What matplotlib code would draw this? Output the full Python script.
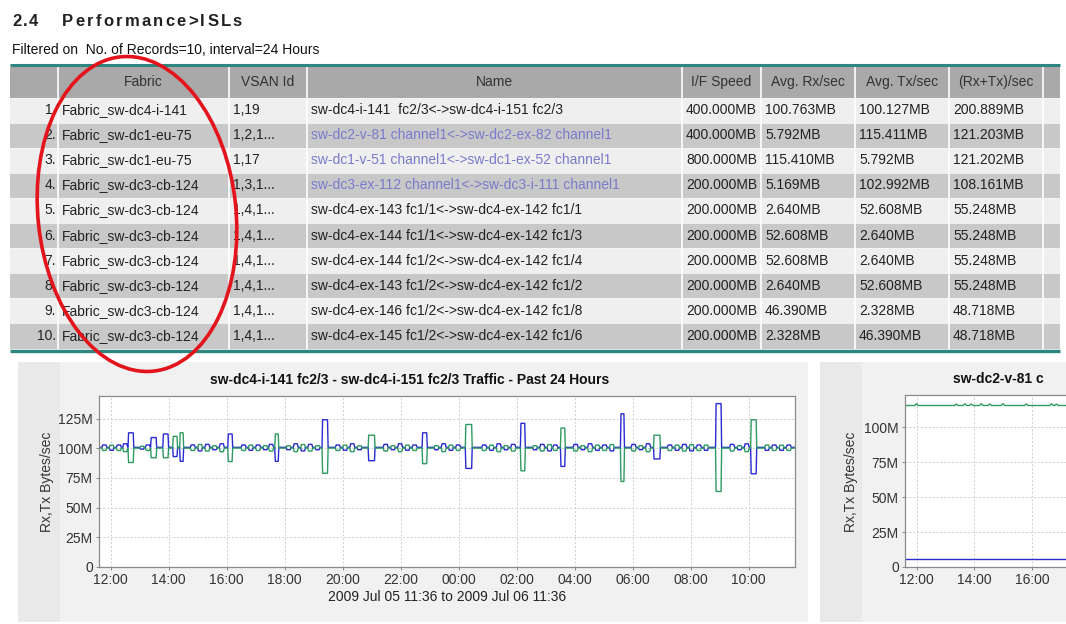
import matplotlib
matplotlib.use('Agg')
import matplotlib.pyplot as plt
from matplotlib.patches import Rectangle, Ellipse

plt.rcParams['font.family'] = ['Liberation Sans', 'DejaVu Sans']

W, H = 1066, 624

# ---------------- table data ----------------
column_headers = ['', 'Fabric', 'VSAN Id', 'Name', 'I/F Speed',
                  'Avg. Rx/sec', 'Avg. Tx/sec', '(Rx+Tx)/sec', '']
row_numbers = ['1.', '2.', '3.', '4.', '5.', '6.', '7.', '8.', '9.', '10.']
fabrics = ['Fabric_sw-dc4-i-141', 'Fabric_sw-dc1-eu-75', 'Fabric_sw-dc1-eu-75',
           'Fabric_sw-dc3-cb-124', 'Fabric_sw-dc3-cb-124', 'Fabric_sw-dc3-cb-124',
           'Fabric_sw-dc3-cb-124', 'Fabric_sw-dc3-cb-124', 'Fabric_sw-dc3-cb-124',
           'Fabric_sw-dc3-cb-124']
vsan_ids = ['1,19', '1,2,1...', '1,17', '1,3,1...', '1,4,1...', '1,4,1...',
            '1,4,1...', '1,4,1...', '1,4,1...', '1,4,1...']
names = ['sw-dc4-i-141  fc2/3<->sw-dc4-i-151 fc2/3',
         'sw-dc2-v-81 channel1<->sw-dc2-ex-82 channel1',
         'sw-dc1-v-51 channel1<->sw-dc1-ex-52 channel1',
         'sw-dc3-ex-112 channel1<->sw-dc3-i-111 channel1',
         'sw-dc4-ex-143 fc1/1<->sw-dc4-ex-142 fc1/1',
         'sw-dc4-ex-144 fc1/1<->sw-dc4-ex-142 fc1/3',
         'sw-dc4-ex-144 fc1/2<->sw-dc4-ex-142 fc1/4',
         'sw-dc4-ex-143 fc1/2<->sw-dc4-ex-142 fc1/2',
         'sw-dc4-ex-146 fc1/2<->sw-dc4-ex-142 fc1/8',
         'sw-dc4-ex-145 fc1/2<->sw-dc4-ex-142 fc1/6']
name_is_link = [False, True, True, True, False, False, False, False, False, False]
if_speeds = ['400.000MB', '400.000MB', '800.000MB'] + ['200.000MB'] * 7
avg_rx = ['100.763MB', '5.792MB', '115.410MB', '5.169MB', '2.640MB',
          '52.608MB', '52.608MB', '2.640MB', '46.390MB', '2.328MB']
avg_tx = ['100.127MB', '115.411MB', '5.792MB', '102.992MB', '52.608MB',
          '2.640MB', '2.640MB', '52.608MB', '2.328MB', '46.390MB']
rx_tx_sum = ['200.889MB', '121.203MB', '121.202MB', '108.161MB', '55.248MB',
             '55.248MB', '55.248MB', '55.248MB', '48.718MB', '48.718MB']

# ---------------- chart 1 data (hours after 12:00, M bytes/sec) ----------------
rx_base = 100.763
tx_base = 100.127
spike_start = [0.60, 1.38, 1.80, 2.14, 2.38, 4.04, 5.66, 7.29, 8.88, 10.74,
               12.23, 14.13, 15.51, 17.58, 18.72, 20.86, 22.07]
spike_end = [0.80, 1.59, 2.00, 2.31, 2.52, 4.21, 5.80, 7.50, 9.12, 10.92,
             12.47, 14.30, 15.68, 17.72, 18.96, 21.07, 22.28]
spike_rx = [113, 109, 112, 93, 89, 112, 89, 124, 89.5, 113,
            83, 121, 84.7, 129, 91, 137.6, 78.5]
spike_tx = [88, 92, 92, 110, 113, 88.8, 112, 79, 111, 87,
            120, 81, 117, 72, 111, 63.6, 124]
wobble_t = [-0.30, -0.05, 0.20, 0.42, 1.00, 1.20, 2.75, 3.00, 3.25, 3.50,
            3.75, 4.50, 4.75, 5.00, 5.25, 5.45, 6.05, 6.30, 6.55, 6.80,
            7.05, 7.75, 8.00, 8.25, 8.50, 9.40, 9.65, 9.90, 10.15, 10.40,
            11.15, 11.40, 11.65, 11.90, 12.80, 13.05, 13.30, 13.55, 13.80, 14.55,
            14.80, 15.05, 15.25, 15.95, 16.20, 16.45, 16.70, 16.95, 17.20, 17.95,
            18.20, 18.45, 19.20, 19.45, 19.70, 19.95, 20.20, 20.45, 21.35, 21.60,
            21.85, 22.55, 22.80, 23.05, 23.30]
wobble_rx = [2, -2.5, 2, 3, -1.5, 2, 2, -3, 2.5, -2,
             3, 2, -2.5, 2, -2, 2.5, -2, 3, -3, 2.5,
             -2, 2, -2.5, 3, -2, 2.5, -2, 3, -2.5, 2,
             -2, 3, -2.5, 2, 2, -2.5, 3, -2, 2.5, -2,
             2.5, -3, 2, 2.5, -2, 3, -2.5, 2, -3, 2.5,
             -2, 3, 2, -2.5, 2.5, -3, 2, -2.5, 2.5, -2,
             3, -2.5, 2, -2.5, 2]

# ---------------- chart 2 data ----------------
rx2_level = 5.792
tx2_level = 115.411
tx2_bump_t = [0.00, 1.38, 1.67, 1.89, 2.24, 2.53, 2.99, 3.80, 4.67, 4.84]
tx2_bump = [1.2, 1.0, 1.2, 1.0, 1.2, 1.0, 1.2, 1.0, 1.2, 1.0]

tick_hours = [0, 2, 4, 6, 8, 10, 12, 14, 16, 18, 20, 22]
tick_labels = ['12:00', '14:00', '16:00', '18:00', '20:00', '22:00',
               '00:00', '02:00', '04:00', '06:00', '08:00', '10:00']

BLUE = '#2a2ad2'
GREEN = '#2f9a62'
TEAL = '#2f8580'


def px_axes(x0, y0, x1, y1):
    return [x0 / W, 1 - y1 / H, (x1 - x0) / W, (y1 - y0) / H]


fig = plt.figure(figsize=(W / 100, H / 100), dpi=100)
bg = fig.add_axes([0, 0, 1, 1])
bg.set_xlim(0, W)
bg.set_ylim(H, 0)
bg.axis('off')
renderer = fig.canvas.get_renderer()


def spaced_text(x, y, s, target_w, **kw):
    widths = []
    for ch in s:
        t = bg.text(0, 0, ch, **kw)
        widths.append(t.get_window_extent(renderer).width)
        t.remove()
    gap = (target_w - sum(widths)) / (len(s) - 1)
    for ch, w in zip(s, widths):
        bg.text(x, y, ch, va='center', ha='left', **kw)
        x += w + gap


# heading
spaced_text(12, 22, '2.4', 26, fontsize=12, fontweight='bold', color='#222222')
spaced_text(62, 22, 'Performance>ISLs', 180, fontsize=12, fontweight='bold',
            color='#222222')
bg.text(12, 50, 'Filtered on  No. of Records=10, interval=24 Hours',
        fontsize=10, va='center', color='#111111')

# table
col_x = [10, 58, 229, 307, 682, 761, 855, 949, 1043, 1060]
head_top, head_bot = 67, 97.5
row_h = 25.1
bg.add_patch(Rectangle((col_x[0], head_top), col_x[-1] - col_x[0], head_bot - head_top,
                       color='#a9a9a9', lw=0))
for i in range(len(fabrics)):
    y0 = head_bot + i * row_h
    bg.add_patch(Rectangle((col_x[0], y0), col_x[-1] - col_x[0], row_h,
                           color='#efefef' if i % 2 == 0 else '#c8c8c8', lw=0))
for cx in col_x[1:-1]:
    bg.plot([cx, cx], [head_top, head_bot + 10 * row_h], color='white', lw=1.2)
for i in range(len(fabrics) + 1):
    yy = head_bot + i * row_h
    bg.plot([col_x[0], col_x[-1]], [yy, yy], color='#f7f7f7', lw=0.6)
for j, h in enumerate(column_headers):
    if h:
        bg.text((col_x[j] + col_x[j + 1]) / 2, (head_top + head_bot) / 2, h,
                ha='center', va='center', fontsize=10, color='#333333')
for i in range(len(fabrics)):
    yc = head_bot + (i + 0.5) * row_h
    bg.text(56, yc, row_numbers[i], ha='right', va='center', fontsize=10,
            color='#222222', zorder=3)
    cells = [fabrics[i], vsan_ids[i], names[i], if_speeds[i], avg_rx[i], avg_tx[i], rx_tx_sum[i]]
    for j, val in enumerate(cells):
        color = '#7a7acc' if (j == 2 and name_is_link[i]) else '#222222'
        bg.text(col_x[j + 1] + 4, yc, val, ha='left', va='center', fontsize=10, color=color)
bg.plot([col_x[0], col_x[-1]], [65, 65], color=TEAL, lw=2.2, solid_capstyle='butt')
bg.plot([col_x[0], col_x[-1]], [350.5, 350.5], color=TEAL, lw=2.4, solid_capstyle='butt')

# chart panels
bg.add_patch(Rectangle((18, 362), 790, 260, color='#f1f1f1', lw=0))
bg.add_patch(Rectangle((18, 362), 42, 260, color='#e9e9e9', lw=0))
bg.add_patch(Rectangle((820, 362), 246, 260, color='#f1f1f1', lw=0))
bg.add_patch(Rectangle((820, 362), 42, 260, color='#e9e9e9', lw=0))

# red ellipse
bg.add_patch(Ellipse((137, 214), 198, 316, angle=-6, fill=False,
                     edgecolor='#e3141c', lw=2.6, zorder=10))

# chart titles and labels
bg.text(410, 380, 'sw-dc4-i-141 fc2/3 - sw-dc4-i-151 fc2/3 Traffic - Past 24 Hours',
        ha='center', va='center', fontsize=10, fontweight='bold', color='#111111')
# the second chart is cropped at the page edge, only its first letters show
bg.text(953, 379, 'sw-dc2-v-81 c',
        ha='left', va='center', fontsize=10, fontweight='bold', color='#111111')
bg.text(447, 597, '2009 Jul 05 11:36 to 2009 Jul 06 11:36',
        ha='center', va='center', fontsize=10, color='#222222')
bg.text(47, 482, 'Rx,Tx Bytes/sec', rotation=90, ha='center', va='center',
        fontsize=10, color='#333333')
bg.text(851, 482, 'Rx,Tx Bytes/sec', rotation=90, ha='center', va='center',
        fontsize=10, color='#333333')

# build chart-1 traffic series from the spike and wobble readings
events = []
for s, e, rx, tx in zip(spike_start, spike_end, spike_rx, spike_tx):
    events.append((s, e, rx, tx, 0.02))
for t, d in zip(wobble_t, wobble_rx):
    events.append((t, t + 0.17, rx_base + d, tx_base - d, 0.03))
events.sort()
t1, rx1, tx1 = [-0.4], [rx_base], [tx_base]
for s, e, rx, tx, r in events:
    t1 += [s, s + r, e - r, e]
    rx1 += [rx_base, rx, rx, rx_base]
    tx1 += [tx_base, tx, tx, tx_base]
t1.append(23.6)
rx1.append(rx_base)
tx1.append(tx_base)

t2, tx2 = [-0.4], [tx2_level]
for t, b in zip(tx2_bump_t, tx2_bump):
    t2 += [t - 0.06, t, t + 0.06]
    tx2 += [tx2_level, tx2_level + b, tx2_level]
t2.append(23.6)
tx2.append(tx2_level)


def style_axes(ax, xmax, ymax, yticks):
    ax.set_facecolor('white')
    ax.set_xlim(-0.4, xmax)
    ax.set_ylim(0, ymax)
    ax.set_xticks([h for h in tick_hours if h <= xmax])
    ax.set_xticklabels([lab for h, lab in zip(tick_hours, tick_labels) if h <= xmax])
    ax.set_yticks(yticks)
    ax.set_yticklabels(['0' if v == 0 else f'{v}M' for v in yticks])
    ax.grid(True, color='#cfcfcf', linestyle=(0, (2, 2)), lw=0.7)
    ax.tick_params(length=2.5, width=0.7, color='#888888', labelsize=10,
                   labelcolor='#333333', pad=2)
    for sp in ax.spines.values():
        sp.set_color('#8a8a8a')
        sp.set_linewidth(0.9)


ax1 = fig.add_axes(px_axes(99, 396, 795, 567))
ax1.plot(t1, rx1, color=BLUE, lw=1.0)
ax1.plot(t1, tx1, color=GREEN, lw=1.0)
style_axes(ax1, 23.6, 144, [0, 25, 50, 75, 100, 125])

# right chart: 28.9 px per hour, cut by the right page edge
ax2 = fig.add_axes(px_axes(905, 395, W, 567))
ax2.plot([-0.4, 23.6], [rx2_level, rx2_level], color=BLUE, lw=1.0)
ax2.plot(t2, tx2, color=GREEN, lw=1.0)
style_axes(ax2, -0.4 + (W - 905) / 28.9, 122.9, [0, 25, 50, 75, 100])
ax2.spines['right'].set_visible(False)

fig.savefig('out.png', dpi=100)
